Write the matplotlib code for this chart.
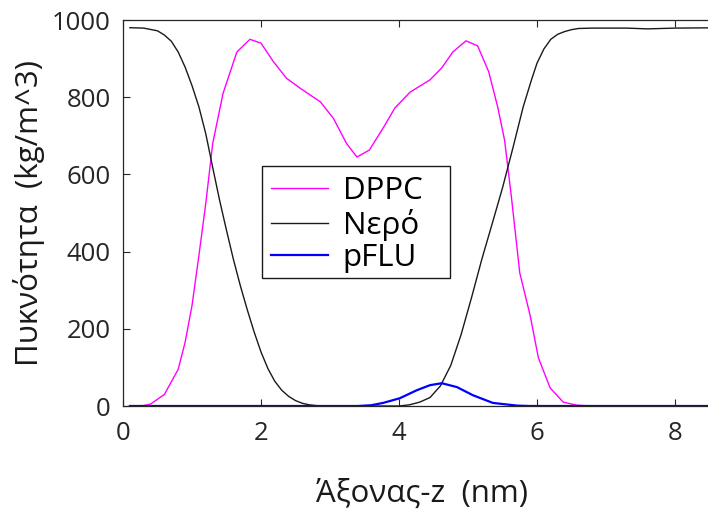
import matplotlib
matplotlib.use("Agg")
import matplotlib.pyplot as plt
from matplotlib.patches import Rectangle

plt.rcParams['font.family'] = ['Open Sans', 'DejaVu Sans']

# Water (Νερό)
water_x = [0.1, 0.3, 0.5, 0.6, 0.7, 0.8, 0.9, 1.0, 1.1, 1.2, 1.3, 1.4, 1.5, 1.6, 1.7,
           1.8, 1.9, 2.0, 2.1, 2.2, 2.3, 2.4, 2.5, 2.6, 2.7, 2.8, 2.9, 3.5, 4.0, 4.15,
           4.3, 4.45, 4.6, 4.75, 4.9, 5.05, 5.2, 5.35, 5.5, 5.65,
           5.8, 5.92, 6.0, 6.1, 6.2, 6.3, 6.4, 6.5, 6.6, 6.8, 7.0, 7.3, 7.6, 8.0, 8.7]
water_y = [980, 979, 972, 961, 945, 917, 878, 830, 775, 705, 618, 533, 455, 380, 312,
           250, 192, 140, 97, 64, 41, 25, 14, 7, 3, 1, 0, 0, 0, 3,
           10, 22, 52, 105, 185, 280, 380, 472, 565, 668,
           775, 845, 888, 925, 950, 963, 970, 975, 978, 979, 979, 979, 977, 979, 980]

# DPPC
dppc_x = [0.1, 0.3, 0.4, 0.6, 0.8, 0.9, 1.0, 1.1, 1.2, 1.3, 1.45, 1.65, 1.84, 2.0,
          2.18, 2.37, 2.57, 2.86, 3.05, 3.24, 3.39, 3.57, 3.77, 3.94, 4.16, 4.45,
          4.62, 4.78, 4.97, 5.14, 5.3, 5.43, 5.53, 5.63, 5.75, 5.9, 6.02,
          6.19, 6.38, 6.58, 6.8, 8.7]
dppc_y = [0, 1, 5, 30, 95, 165, 260, 390, 525, 680, 810, 917, 950, 940,
          892, 849, 823, 788, 745, 680, 645, 663, 720, 772, 813, 845,
          876, 917, 946, 933, 866, 775, 689, 540, 345, 235, 125,
          47, 10, 2, 0, 0]

# pFLU
pflu_x = [0.1, 3.4, 3.6, 3.77, 4.01, 4.26, 4.45, 4.62, 4.84, 5.07, 5.36, 5.71, 5.9, 8.7]
pflu_y = [0, 0, 2, 8, 20, 41, 54, 59, 49, 28, 8, 1, 0, 0]

labels = ['DPPC', 'Νερό', 'pFLU']
xticks = [0, 2, 4, 6, 8]
yticks = [0, 200, 400, 600, 800, 1000]

W, H = 708, 513
fig = plt.figure(figsize=(W / 100, H / 100), dpi=100)
ax = fig.add_axes([123 / W, 107 / H, 690 / W, 386 / H])

ax.plot(dppc_x, dppc_y, color='#FF00FF', lw=1.0, label=labels[0])
ax.plot(water_x, water_y, color='#1a1a1a', lw=1.0, label=labels[1])
ax.plot(pflu_x, pflu_y, color='#0000FF', lw=1.6, label=labels[2])

ax.set_xlim(0, 10)
ax.set_ylim(0, 1000)
ax.set_xticks(xticks)
ax.set_yticks(yticks)
ax.tick_params(direction='in', length=5, width=0.8, color='#262626',
               labelsize=18.5, labelcolor='#262626', top=True, right=False)
ax.tick_params(axis='x', pad=11)
ax.tick_params(axis='y', pad=9)
ax.spines['right'].set_visible(False)
for s in ['left', 'top', 'bottom']:
    ax.spines[s].set_color('#262626')
    ax.spines[s].set_linewidth(0.9)

ax.set_xlabel('Άξονας-z  (nm)', fontsize=22.5, color='#1a1a1a')
ax.xaxis.set_label_coords((422 - 123) / 690, -0.188)
ax.set_ylabel('Πυκνότητα  (kg/m^3)', fontsize=22.5, color='#1a1a1a', labelpad=5)

# legend frame (wider than the entries, as in the original)
fx0 = (262 - 123) / 690
fy1 = (406 - 166) / 386
fw = (450 - 262) / 690
fh = (278 - 166) / 386
ax.add_patch(Rectangle((fx0, fy1 - fh), fw, fh, transform=ax.transAxes,
                       facecolor='white', edgecolor='#1a1a1a', lw=1.0, zorder=4))

leg = ax.legend(loc='upper left', bbox_to_anchor=(fx0, fy1 - 1 / 386),
                borderaxespad=0, fontsize=22.5, frameon=False, handlelength=1.8,
                handletextpad=0.48, labelspacing=0.08, borderpad=0.3)
leg.set_zorder(5)

fig.savefig('out.png', dpi=100)
